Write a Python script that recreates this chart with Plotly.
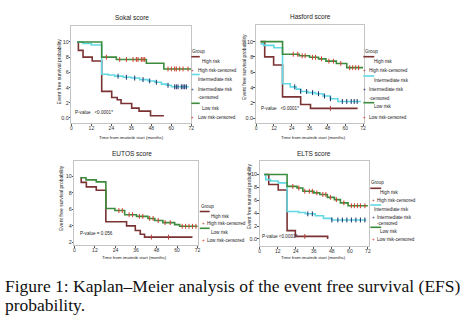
import plotly.graph_objects as go

W, H = 465, 328
FONT = "Liberation Sans, Arial, sans-serif"
C_HIGH = "#7a3232"
C_INT = "#62d8e2"
C_LOW = "#3d8c3d"
C_CENS_LOW = "#d23a2e"
C_CENS_INT = "#1c2e6a"
C_CENS_HIGH = "#b04040"

# ---------------- data (months, survival probability) ----------------
sokal_high_t = [3.5, 4.2, 7, 12.5, 18.2, 24.2, 27.5, 29.8, 36.2, 40.6, 47.5, 55.5]
sokal_high_s = [1.0, 0.89, 0.80, 0.75, 0.35, 0.27, 0.24, 0.19, 0.13, 0.09, 0.03, 0.03]
sokal_int_t = [3.5, 7, 12, 18.2, 22, 26, 31, 36, 41, 46, 50, 54, 57, 60, 70.5]
sokal_int_s = [1.0, 0.98, 0.96, 0.575, 0.565, 0.55, 0.535, 0.525, 0.505, 0.487, 0.47, 0.445, 0.43, 0.41, 0.41]
sokal_low_t = [3.5, 18.2, 27, 45, 55.5, 72]
sokal_low_s = [1.0, 0.80, 0.77, 0.72, 0.645, 0.645]
sokal_low_cens = [21, 29, 33, 37, 39, 40, 42, 43, 44, 58, 60, 62, 63, 65, 67, 70]
sokal_int_cens = [28, 33, 38, 43, 47, 51, 58, 62, 63, 64, 66, 67, 68, 69]
sokal_high_cens = []

hasford_high_t = [3, 5.8, 11.8, 17.8, 30, 36.6, 68.3]
hasford_high_s = [1.0, 0.80, 0.695, 0.28, 0.18, 0.13, 0.13]
hasford_int_t = [3, 5, 12, 17.8, 23, 27, 30, 35, 40, 45, 50, 55, 70.5]
hasford_int_s = [0.97, 0.95, 0.92, 0.45, 0.41, 0.38, 0.35, 0.335, 0.32, 0.29, 0.255, 0.22, 0.22]
hasford_low_t = [3, 17.8, 29, 36, 42, 47, 54, 61, 72]
hasford_low_s = [1.0, 0.835, 0.815, 0.795, 0.775, 0.745, 0.715, 0.66, 0.66]
hasford_low_cens = [25, 28, 31, 33, 38, 40, 44, 49, 52, 57, 63, 65, 67, 69]
hasford_int_cens = [26, 30, 34, 38, 42, 46, 50, 58, 61, 64, 66, 68]
hasford_high_cens = [50]

eutos_high_t = [3.5, 4, 7, 12.8, 18.4, 30.5, 35.6, 38.5, 41, 69]
eutos_high_s = [0.975, 0.925, 0.87, 0.83, 0.45, 0.40, 0.345, 0.30, 0.265, 0.265]
eutos_low_t = [3.5, 6.8, 12.8, 18.4, 23.7, 29.4, 36.3, 43, 47, 51.7, 58.6, 61.5, 72]
eutos_low_s = [0.98, 0.955, 0.93, 0.61, 0.585, 0.535, 0.515, 0.49, 0.465, 0.44, 0.415, 0.395, 0.395]
eutos_low_cens = [26, 28, 32, 34, 38, 40, 44, 46, 49, 53, 56, 63, 65, 67, 69, 71]
eutos_high_cens = [45, 55]

elts_high_t = [3, 6, 12.3, 18.2, 23.7, 45.2]
elts_high_s = [1.0, 0.845, 0.76, 0.13, 0.04, 0.0]
elts_int_t = [3, 4, 7.2, 12.3, 18.2, 25.9, 30.3, 36.9, 42.4, 47.9, 71]
elts_int_s = [1.0, 0.92, 0.90, 0.87, 0.425, 0.41, 0.39, 0.36, 0.32, 0.295, 0.295]
elts_low_t = [3, 18.2, 24.8, 28.7, 36, 40, 45, 49.7, 53.7, 58.8, 72]
elts_low_s = [1.0, 0.815, 0.79, 0.74, 0.715, 0.69, 0.645, 0.61, 0.56, 0.515, 0.515]
elts_low_cens = [22, 26, 30, 33, 35, 38, 42, 44, 47, 51, 56, 61, 63, 65, 67, 70]
elts_int_cens = [32, 35, 48, 52, 55, 58, 61, 64, 67, 70]
elts_high_cens = [30]

x_ticks = [0, 12, 24, 36, 48, 60, 72]
y_tickvals = [0.0, 0.2, 0.4, 0.6, 0.8, 1.0]
y_ticktext = ["0.0", "2", "4", "6", "8", "10"]

titles = ["Sokal score", "Hasford score", "EUTOS score", "ELTS score"]
pvalues = ["P-value   <0.0001*", "P-value   <0.0001*", "P-value = 0.056", "P-value <0.0001*"]
x_title = "Time from imatinib start (months)"
y_title = "Event free survival probability"
caption1 = "Figure 1: Kaplan\u2013Meier analysis of the event free survival (EFS)"
caption2 = "probability."


def px(x):
    return x / W


def py(y):
    return 1 - y / H


def step_at(ts, ss, t):
    v = ss[0]
    for ti, si in zip(ts, ss):
        if ti <= t:
            v = si
    return v


annotations = []
shapes = []
layout_axes = {}


def ann(x, y, text, font, xanchor="center", angle=0):
    annotations.append(dict(x=px(x), y=py(y), xref="paper", yref="paper", text=text,
                            xanchor=xanchor, yanchor="middle", showarrow=False,
                            textangle=angle, font=font, borderpad=0))


fig = go.Figure()

panels = [
    dict(dom=(71, 192, 26, 123), xr=[0, 72], yr=[-0.066, 1.21],
         curves=[(sokal_high_t, sokal_high_s, C_HIGH, sokal_high_cens, C_CENS_HIGH),
                 (sokal_int_t, sokal_int_s, C_INT, sokal_int_cens, C_CENS_INT),
                 (sokal_low_t, sokal_low_s, C_LOW, sokal_low_cens, C_CENS_LOW)],
         title=(132, 17), xt=(132, 137), yt=(58, 72), pv=(74, 112.5)),
    dict(dom=(257, 366, 25, 123), xr=[-0.2, 72.5], yr=[-0.061, 1.216],
         curves=[(hasford_high_t, hasford_high_s, C_HIGH, hasford_high_cens, C_CENS_HIGH),
                 (hasford_int_t, hasford_int_s, C_INT, hasford_int_cens, C_CENS_INT),
                 (hasford_low_t, hasford_low_s, C_LOW, hasford_low_cens, C_CENS_LOW)],
         title=(312, 16), xt=(315, 137), yt=(245, 67), pv=(261, 108.5)),
    dict(dom=(74, 199, 161, 245), xr=[0, 72.4], yr=[0.17, 1.182],
         curves=[(eutos_high_t, eutos_high_s, C_HIGH, eutos_high_cens, C_CENS_HIGH),
                 (eutos_low_t, eutos_low_s, C_LOW, eutos_low_cens, C_CENS_LOW)],
         title=(132, 153), xt=(135, 257), yt=(60.5, 198), pv=(79, 233.5)),
    dict(dom=(261, 371, 161, 246), xr=[0, 72.6], yr=[-0.109, 1.209],
         curves=[(elts_high_t, elts_high_s, C_HIGH, elts_high_cens, C_CENS_HIGH),
                 (elts_int_t, elts_int_s, C_INT, elts_int_cens, C_CENS_INT),
                 (elts_low_t, elts_low_s, C_LOW, elts_low_cens, C_CENS_LOW)],
         title=(316, 153), xt=(315.5, 257), yt=(250.5, 196), pv=(262, 236.7)),
]

for i, p in enumerate(panels):
    n = i + 1
    xa = "x" if n == 1 else f"x{n}"
    ya = "y" if n == 1 else f"y{n}"
    x0, x1, y0, y1 = p["dom"]
    for ts, ss, col, cens, ccol in p["curves"]:
        fig.add_trace(go.Scatter(x=ts, y=ss, mode="lines", line=dict(color=col, width=1.6, shape="hv"),
                                 xaxis=xa, yaxis=ya, showlegend=False, hoverinfo="skip"))
        if cens:
            cy = [step_at(ts, ss, t) for t in cens]
            fig.add_trace(go.Scatter(x=cens, y=cy, mode="markers",
                                     marker=dict(symbol="line-ns-open", size=3.5, color=ccol,
                                                 line=dict(color=ccol, width=1)),
                                     xaxis=xa, yaxis=ya, showlegend=False, hoverinfo="skip"))
    axkey = "xaxis" if n == 1 else f"xaxis{n}"
    aykey = "yaxis" if n == 1 else f"yaxis{n}"
    layout_axes[axkey] = dict(domain=[px(x0), px(x1)], anchor=ya, range=p["xr"], tickvals=x_ticks,
                              ticks="outside", ticklen=1.5, tickwidth=0.6, tickcolor="#555",
                              ticklabelstandoff=-2,
                              tickfont=dict(size=5, color="#333", family=FONT),
                              showline=True, mirror=True, linecolor="#c4c4c4", linewidth=1,
                              showgrid=False, zeroline=False, fixedrange=True)
    layout_axes[aykey] = dict(domain=[py(y1), py(y0)], anchor=xa, range=p["yr"],
                              tickvals=y_tickvals, ticktext=y_ticktext,
                              ticks="outside", ticklen=1.5, tickwidth=0.6, tickcolor="#555",
                              ticklabelstandoff=-1,
                              tickfont=dict(size=5.5, color="#333", family=FONT),
                              showline=True, mirror=True, linecolor="#c4c4c4", linewidth=1,
                              showgrid=False, zeroline=False, fixedrange=True)
    ann(*p["title"], titles[i], dict(size=6.5, color="#222", family=FONT))
    ann(*p["xt"], x_title, dict(size=4.4, color="#222", family=FONT))
    ann(*p["yt"], y_title, dict(size=5, color="#222", family=FONT), angle=-90)
    ann(*p["pv"], pvalues[i], dict(size=4.6, color="#222", family=FONT), xanchor="left")

# ---------------- legends (drawn as text + line samples) ----------------
legend_specs = [
    dict(lx=(192, 200.5), mx=193.5, tx=201.5, cx=197.5, group=(192, 51),
         rows=[("line", C_HIGH, 56.7, "High risk", 61),
               ("cens", C_CENS_HIGH, 70.7, "High risk-censored", None),
               ("line", C_INT, 74.5, "Intermediate risk", 79.5, 197.5),
               ("cens", C_CENS_INT, 89, "Intermediate risk", None),
               ("text", None, 97.5, "-censored", None),
               ("line", C_LOW, 103.3, "Low risk", 108),
               ("cens", C_CENS_LOW, 117.5, "Low risk-censored", None)]),
    dict(lx=(365.5, 376.5), mx=367, tx=375, cx=370.5, group=(366, 51),
         rows=[("line", C_HIGH, 56.7, "High risk", 61),
               ("cens", C_CENS_HIGH, 70.7, "High risk-censored", None),
               ("line", C_INT, 76, "Intermediate risk", 80.5),
               ("cens", C_CENS_INT, 89.3, "Intermediate risk", None),
               ("text", None, 98.3, "-censored", None),
               ("line", C_LOW, 102.7, "Low risk", 107),
               ("cens", C_CENS_LOW, 117.5, "Low risk-censored", None)]),
    dict(lx=(200.5, 210.5), mx=204.5, tx=210.5, cx=207, group=(200.5, 206),
         rows=[("line", C_HIGH, 211.5, "High risk", 216),
               ("cens", C_CENS_HIGH, 223.5, "High risk-censored", None),
               ("line", C_LOW, 228.3, "Low risk", 232.5),
               ("cens", C_CENS_LOW, 240.7, "Low risk-censored", None)]),
    dict(lx=(372.5, 383.5), mx=376, tx=381.5, cx=378.5, group=(372.5, 182.7),
         rows=[("line", C_HIGH, 188.3, "High risk", 192.5),
               ("cens", C_CENS_HIGH, 200.7, "High risk-censored", None),
               ("line", C_INT, 205, "Intermediate risk", 209.3, 375.5),
               ("cens", C_CENS_INT, 217.3, "Intermediate risk", None),
               ("text", None, 223.5, "-censored", None),
               ("line", C_LOW, 227.3, "Low risk", 231.7),
               ("cens", C_CENS_LOW, 239.3, "Low risk-censored", None)]),
]

LF = dict(size=4.6, color="#222", family=FONT)
for spec in legend_specs:
    gx, gy = spec["group"]
    ann(gx, gy, "Group", LF, xanchor="left")
    for row in spec["rows"]:
        kind, col, yy, txt, ty2 = row[:5]
        if kind == "line":
            shapes.append(dict(type="line", xref="paper", yref="paper",
                               x0=px(spec["lx"][0]), x1=px(spec["lx"][1]), y0=py(yy), y1=py(yy),
                               line=dict(color=col, width=1.6)))
            txx = row[5] if len(row) > 5 else spec["tx"]
            ann(txx, ty2, txt, LF, xanchor="left")
        elif kind == "cens":
            ann(spec["mx"], yy, "+", dict(size=4.6, color=col, family=FONT))
            ann(spec["cx"], yy, txt, LF, xanchor="left")
        else:
            ann(spec["cx"], yy, txt, LF, xanchor="left")

# ---------------- caption ----------------
CF = dict(size=17.5, color="#111", family="Liberation Serif, Times New Roman, serif")
ann(3, 286, caption1, CF, xanchor="left")
ann(3, 304.5, caption2, CF, xanchor="left")

fig.update_layout(width=W, height=H, margin=dict(l=0, r=0, t=0, b=0),
                  paper_bgcolor="white", plot_bgcolor="white", showlegend=False,
                  annotations=annotations, shapes=shapes, **layout_axes)

fig.write_html("out.html", include_plotlyjs=True, config={"displayModeBar": False},
               post_script="document.body.style.margin='0';document.body.style.overflow='hidden';")
